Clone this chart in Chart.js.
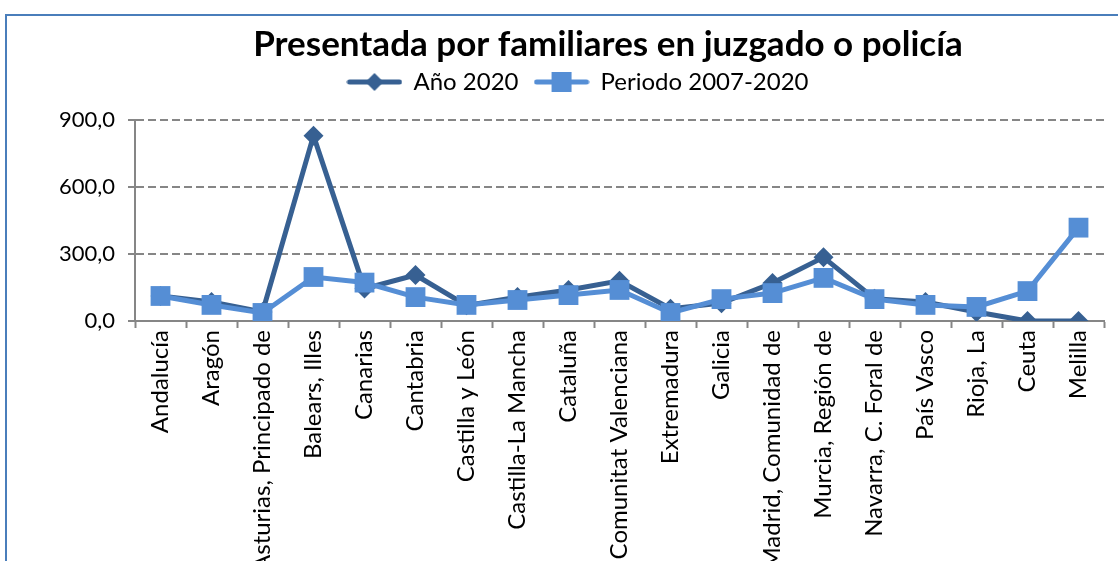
<!DOCTYPE html>
<html>
<head>
<meta charset="utf-8">
<script src="https://cdn.jsdelivr.net/npm/chart.js@4"></script>
<style>
  html, body { margin: 0; padding: 0; background: #fff; overflow: hidden; width: 1118px; height: 561px; }
  #wrap { position: absolute; left: 0; top: 0; width: 1118px; height: 600px; }
  #frame { position: absolute; left: 5px; top: 14px; width: 1130px; height: 600px; border-top: 2px solid #4a7ebb; border-left: 2px solid #4a7ebb; pointer-events: none; }
</style>
</head>
<body>
<div id="wrap"><canvas id="c"></canvas></div>
<div id="frame"></div>
<script>
const categories = ["Andalucía", "Aragón", "Asturias, Principado de", "Balears, Illes", "Canarias", "Cantabria", "Castilla y León", "Castilla-La Mancha", "Cataluña", "Comunitat Valenciana", "Extremadura", "Galicia", "Madrid, Comunidad de", "Murcia, Región de", "Navarra, C. Foral de", "País Vasco", "Rioja, La", "Ceuta", "Melilla"];
const anio2020 = [112, 85, 40, 830, 145, 206, 70, 107, 139, 180, 55, 80, 170, 285, 100, 85, 40, 0, 0];
const periodo = [112, 72, 36, 197, 172, 107, 72, 94, 116, 139, 36, 98, 125, 193, 98, 72, 63, 134, 418];
const yTicks = [0, 300, 600, 900];
const seriesNames = ["Año 2020", "Periodo 2007-2020"];

const darkBlue = '#376092';
const lightBlue = '#558ED5';
const FONT = 'Lato, "Open Sans", sans-serif';

function legendIcon(color, style) {
  const c = document.createElement('canvas');
  c.width = 56; c.height = 24;
  const g = c.getContext('2d');
  g.strokeStyle = color; g.lineWidth = 5; g.lineCap = 'round';
  g.beginPath(); g.moveTo(3, 12); g.lineTo(53, 12); g.stroke();
  g.fillStyle = color;
  g.beginPath();
  if (style === 'diamond') {
    g.moveTo(28, 3); g.lineTo(37, 12); g.lineTo(28, 21); g.lineTo(19, 12); g.closePath();
  } else {
    g.rect(18, 2, 20, 20);
  }
  g.fill();
  return c;
}
const icons = [legendIcon(darkBlue, 'diamond'), legendIcon(lightBlue, 'square')];

const headerShift = {
  id: 'headerShift',
  afterLayout(chart) {
    const t = chart.titleBlock;
    if (t) { t.left += 50; t.right += 50; }
    const l = chart.legend;
    if (l) { l.left += 20; l.right += 20; l.top -= 16; l.bottom -= 16; }
  }
};

new Chart(document.getElementById('c'), {
  type: 'line',
  data: {
    labels: categories,
    datasets: [
      {
        label: seriesNames[0],
        data: anio2020,
        borderColor: darkBlue,
        backgroundColor: darkBlue,
        borderWidth: 5,
        pointStyle: 'rectRot',
        pointRadius: 10,
        pointBorderWidth: 0,
        pointBackgroundColor: darkBlue,
        tension: 0,
        order: 2
      },
      {
        label: seriesNames[1],
        data: periodo,
        borderColor: lightBlue,
        backgroundColor: lightBlue,
        borderWidth: 5,
        pointStyle: 'rect',
        pointRadius: 14,
        pointBorderWidth: 0,
        pointBackgroundColor: lightBlue,
        tension: 0,
        order: 1
      }
    ]
  },
  options: {
    responsive: true,
    maintainAspectRatio: false,
    animation: false,
    layout: { padding: { left: 10, right: 12, top: 0, bottom: 0 } },
    plugins: {
      tooltip: { enabled: false },
      title: {
        display: true,
        text: 'Presentada por familiares en juzgado o policía',
        color: '#000',
        font: { family: FONT, size: 35, weight: 'bold' },
        padding: { top: 24, bottom: 4 }
      },
      legend: {
        display: true,
        labels: {
          color: '#1a1a1a',
          font: { family: FONT, size: 24 },
          usePointStyle: true,
          pointStyleWidth: 54,
          padding: 16,
          generateLabels(chart) {
            return chart.data.datasets.map((ds, i) => ({
              text: ds.label,
              fillStyle: ds.borderColor,
              strokeStyle: ds.borderColor,
              lineWidth: 0,
              pointStyle: icons[i],
              hidden: !chart.isDatasetVisible(i),
              datasetIndex: i
            }));
          }
        }
      }
    },
    scales: {
      x: {
        offset: true,
        grid: { display: true, offset: true, drawOnChartArea: false, drawTicks: true, tickLength: 7, tickColor: '#868686', tickWidth: 2 },
        border: { display: true, color: '#868686', width: 2 },
        ticks: {
          color: '#000',
          font: { family: FONT, size: 24 },
          minRotation: 90,
          maxRotation: 90,
          autoSkip: false,
          padding: 2
        },
        afterFit(scale) { scale.height = 279; }
      },
      y: {
        min: 0,
        max: 900,
        afterBuildTicks(scale) { scale.ticks = yTicks.map(v => ({ value: v })); },
        grid: { color: '#868686', lineWidth: 2, drawTicks: true, tickLength: 7, tickColor: '#868686', tickWidth: 2 },
        border: { display: true, color: '#868686', width: 2, dash: [8, 4] },
        ticks: {
          color: '#000',
          font: { family: FONT, size: 22 },
          padding: 13,
          callback: v => v.toFixed(1).replace('.', ',')
        },
        afterFit(scale) { scale.width = 125; }
      }
    }
  },
  plugins: [headerShift]
});
</script>
</body>
</html>
